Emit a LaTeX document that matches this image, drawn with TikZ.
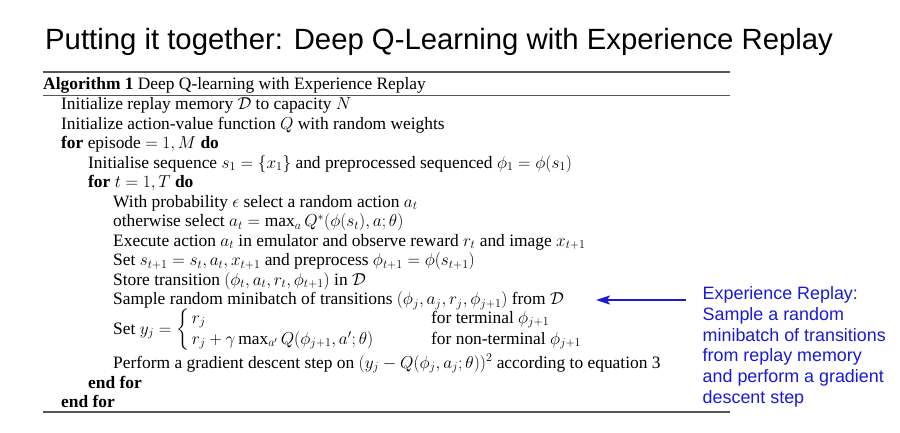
\documentclass[tikz,border=0pt]{standalone}
\usepackage{amsmath}
\usepackage{fontspec}
\setmainfont{Liberation Serif}
\newfontfamily\titlefont{Liberation Sans}
\usetikzlibrary{arrows.meta}
\definecolor{noteblue}{RGB}{25,25,215}
\definecolor{rulegray}{RGB}{85,85,85}
\tikzset{
  algline/.style={anchor=base west, inner sep=0pt, font=\fontsize{17.4}{20}\selectfont},
  titletext/.style={anchor=base west, inner sep=0pt, font=\titlefont\fontsize{29.3}{34}\selectfont},
  notetext/.style={anchor=base west, inner sep=0pt, align=left, text=noteblue,
    font=\titlefont\fontsize{17.9}{20.8}\selectfont},
  algrule/.style={draw=rulegray, line width=1.2pt},
  thinrule/.style={draw=rulegray, line width=0.9pt},
  notearrow/.style={draw=noteblue, line width=1.8pt, -{Stealth[length=14pt,width=9pt,inset=3pt]}}
}
\begin{document}
\begin{tikzpicture}[x=1pt,y=-1pt]
\useasboundingbox (0,0) rectangle (900,432);
\node[titletext] (title) at (45,49) {Putting it together: Deep Q-Learning with Experience Replay};
% rules
\coordinate (r1a) at (43,72); \coordinate (r1b) at (730,72);
\coordinate (r2a) at (43,95); \coordinate (r2b) at (730,95);
\coordinate (r3a) at (43,412); \coordinate (r3b) at (730,412);
\draw[algrule] (r1a) -- (r1b);
\draw[thinrule] (r2a) -- (r2b);
\draw[algrule] (r3a) -- (r3b);
% algorithm
\node[algline] (cap) at (43,89) {\textbf{Algorithm 1} Deep Q-learning with Experience Replay};
\node[algline] (l1) at (61,109.5) {Initialize replay memory $\mathcal{D}$ to capacity $N$};
\node[algline] (l2) at (61,129) {Initialize action-value function $Q$ with random weights};
\node[algline] (l3) at (61,148.5) {\textbf{for} episode $= 1, M$ \textbf{do}};
\node[algline] (l4) at (88,168) {Initialise sequence $s_1 = \{x_1\}$ and preprocessed sequenced $\phi_1 = \phi(s_1)$};
\node[algline] (l5) at (88,187.5) {\textbf{for} $t = 1, T$ \textbf{do}};
\node[algline] (l6) at (113,207) {With probability $\epsilon$ select a random action $a_t$};
\node[algline] (l7) at (113,226.5) {otherwise select $a_t = \max_a Q^*(\phi(s_t), a; \theta)$};
\node[algline] (l8) at (113,246) {Execute action $a_t$ in emulator and observe reward $r_t$ and image $x_{t+1}$};
\node[algline] (l9) at (113,265.5) {Set $s_{t+1} = s_t, a_t, x_{t+1}$ and preprocess $\phi_{t+1} = \phi(s_{t+1})$};
\node[algline] (l10) at (113,285) {Store transition $(\phi_t, a_t, r_t, \phi_{t+1})$ in $\mathcal{D}$};
\node[algline] (l11) at (113,304.5) {Sample random minibatch of transitions $(\phi_j, a_j, r_j, \phi_{j+1})$ from $\mathcal{D}$};
\node[algline] (l12) at (113,334) {Set $y_j = \renewcommand{\arraystretch}{1.05}\left\{\begin{array}{@{\,}l@{}} r_j \\ r_j + \gamma \max_{a'} Q(\phi_{j+1}, a'; \theta)\end{array}\right.$};
\node[algline] (l12a) at (431,323) {for terminal $\phi_{j+1}$};
\node[algline] (l12b) at (431,344) {for non-terminal $\phi_{j+1}$};
\node[algline] (l13) at (113,368) {Perform a gradient descent step on $(y_j - Q(\phi_j, a_j; \theta))^2$ according to equation 3};
\node[algline] (l14) at (88,388) {\textbf{end for}};
\node[algline] (l15) at (61,407) {\textbf{end for}};
% note (base anchor of a multi-line node is its last line)
\node[notetext] (note) at (702.5,403.5) {Experience Replay:\\Sample a random\\minibatch of transitions\\from replay memory\\and perform a gradient\\descent step};
\coordinate (arrS) at (686,300);
\coordinate (arrE) at (596,300);
\draw[notearrow] (arrS) -- (arrE);
\end{tikzpicture}
\end{document}
